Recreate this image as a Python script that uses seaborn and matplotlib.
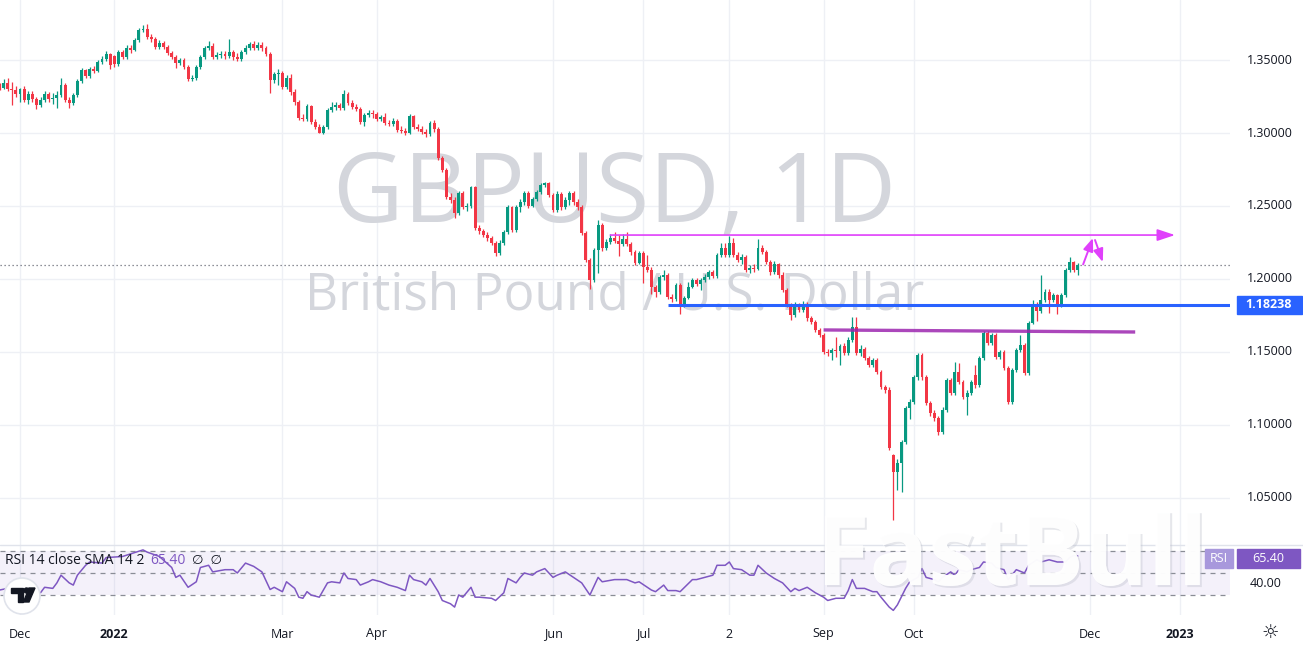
import numpy as np
import pandas as pd
import matplotlib
matplotlib.use("Agg")
import matplotlib.pyplot as plt
import seaborn as sns
import matplotlib.patheffects as pe
from matplotlib.patches import Circle, Polygon, Rectangle
from matplotlib.transforms import IdentityTransform, blended_transform_factory

# GBPUSD daily candles, bar 0 = 1 Dec 2021 (weekdays only), first bar = 24 Nov 2021
bar_start = -5
opens = [
    1.3330, 1.3310, 1.3342, 1.3301, 1.3295, 1.3267, 1.3300, 1.3226, 1.3267, 1.3233,
    1.3192, 1.3226, 1.3267, 1.3233, 1.3240, 1.3260, 1.3329, 1.3226, 1.3205, 1.3260,
    1.3356, 1.3432, 1.3390, 1.3438, 1.3425, 1.3486, 1.3507, 1.3541, 1.3527, 1.3470,
    1.3555, 1.3521, 1.3582, 1.3569, 1.3637, 1.3705, 1.3712, 1.3658, 1.3644, 1.3589,
    1.3616, 1.3589, 1.3548, 1.3520, 1.3479, 1.3500, 1.3452, 1.3370, 1.3377, 1.3452,
    1.3521, 1.3582, 1.3596, 1.3521, 1.3534, 1.3541, 1.3527, 1.3555, 1.3521, 1.3510,
    1.3555, 1.3582, 1.3610, 1.3582, 1.3605, 1.3582, 1.3541, 1.3363, 1.3405, 1.3411,
    1.3315, 1.3380, 1.3281, 1.3212, 1.3103, 1.3095, 1.3185, 1.3075, 1.3041, 1.3000,
    1.3041, 1.3158, 1.3178, 1.3190, 1.3171, 1.3267, 1.3205, 1.3178, 1.3164, 1.3075,
    1.3123, 1.3137, 1.3130, 1.3096, 1.3110, 1.3069, 1.3062, 1.3082, 1.3021, 1.3015,
    1.3000, 1.3116, 1.3041, 1.3030, 1.3007, 1.2995, 1.3069, 1.3027, 1.2829, 1.2747,
    1.2562, 1.2541, 1.2452, 1.2589, 1.2493, 1.2500, 1.2630, 1.2349, 1.2329, 1.2300,
    1.2280, 1.2247, 1.2178, 1.2247, 1.2322, 1.2493, 1.2336, 1.2493, 1.2527, 1.2589,
    1.2500, 1.2548, 1.2596, 1.2644, 1.2658, 1.2575, 1.2473, 1.2583, 1.2490, 1.2540,
    1.2590, 1.2527, 1.2493, 1.2315, 1.2130, 1.1993, 1.2198, 1.2370, 1.2215, 1.2254,
    1.2281, 1.2260, 1.2240, 1.2275, 1.2240, 1.2185, 1.2110, 1.2178, 1.2082, 1.2062,
    1.1945, 1.1911, 1.2014, 1.2027, 1.1877, 1.1862, 1.1959, 1.1822, 1.1870, 1.1945,
    1.1993, 1.1966, 1.1993, 1.2014, 1.2048, 1.2020, 1.2165, 1.2212, 1.2164, 1.2247,
    1.2164, 1.2130, 1.2150, 1.2062, 1.2075, 1.2070, 1.2212, 1.2185, 1.2117, 1.2048,
    1.2100, 1.2030, 1.1925, 1.1822, 1.1753, 1.1822, 1.1790, 1.1822, 1.1733, 1.1705,
    1.1651, 1.1617, 1.1500, 1.1495, 1.1514, 1.1505, 1.1540, 1.1493, 1.1582, 1.1671,
    1.1493, 1.1520, 1.1459, 1.1411, 1.1445, 1.1363, 1.1260, 1.1240, 1.0794, 1.0678,
    1.0740, 1.0883, 1.1116, 1.1158, 1.1329, 1.1480, 1.1329, 1.1151, 1.1082, 1.1048,
    1.0952, 1.1103, 1.1308, 1.1219, 1.1363, 1.1295, 1.1192, 1.1220, 1.1340, 1.1274,
    1.1459, 1.1630, 1.1562, 1.1616, 1.1466, 1.1500, 1.1391, 1.1158, 1.1377, 1.1514,
    1.1548, 1.1356, 1.1700, 1.1822, 1.1780, 1.1856, 1.1911, 1.1856, 1.1890, 1.1822,
    1.1890, 1.2062, 1.2117, 1.2065,
]
highs = [
    1.3345, 1.3370, 1.3380, 1.3350, 1.3320, 1.3310, 1.3320, 1.3285, 1.3290, 1.3250,
    1.3245, 1.3290, 1.3280, 1.3275, 1.3285, 1.3377, 1.3345, 1.3250, 1.3275, 1.3370,
    1.3445, 1.3440, 1.3455, 1.3460, 1.3500, 1.3525, 1.3560, 1.3550, 1.3535, 1.3570,
    1.3570, 1.3600, 1.3605, 1.3650, 1.3720, 1.3740, 1.3748, 1.3675, 1.3660, 1.3635,
    1.3630, 1.3600, 1.3565, 1.3535, 1.3515, 1.3515, 1.3465, 1.3400, 1.3465, 1.3535,
    1.3595, 1.3628, 1.3616, 1.3555, 1.3560, 1.3560, 1.3644, 1.3570, 1.3545, 1.3570,
    1.3600, 1.3625, 1.3628, 1.3620, 1.3620, 1.3595, 1.3555, 1.3420, 1.3440, 1.3425,
    1.3395, 1.3405, 1.3300, 1.3225, 1.3130, 1.3200, 1.3195, 1.3095, 1.3060, 1.3055,
    1.3170, 1.3212, 1.3210, 1.3205, 1.3295, 1.3280, 1.3225, 1.3200, 1.3180, 1.3140,
    1.3155, 1.3160, 1.3145, 1.3125, 1.3135, 1.3090, 1.3100, 1.3095, 1.3045, 1.3035,
    1.3130, 1.3125, 1.3060, 1.3045, 1.3025, 1.3085, 1.3090, 1.3040, 1.2845, 1.2760,
    1.2590, 1.2560, 1.2600, 1.2605, 1.2520, 1.2640, 1.2640, 1.2370, 1.2345, 1.2320,
    1.2295, 1.2260, 1.2265, 1.2335, 1.2505, 1.2500, 1.2505, 1.2545, 1.2600, 1.2600,
    1.2565, 1.2610, 1.2660, 1.2667, 1.2665, 1.2590, 1.2600, 1.2595, 1.2560, 1.2600,
    1.2600, 1.2545, 1.2505, 1.2330, 1.2145, 1.2210, 1.2406, 1.2385, 1.2275, 1.2310,
    1.2320, 1.2300, 1.2310, 1.2320, 1.2255, 1.2200, 1.2190, 1.2190, 1.2165, 1.2080,
    1.1960, 1.2030, 1.2060, 1.2040, 1.1900, 1.1975, 1.1975, 1.1885, 1.1980, 1.2005,
    1.2010, 1.2010, 1.2035, 1.2065, 1.2060, 1.2180, 1.2245, 1.2245, 1.2293, 1.2280,
    1.2185, 1.2170, 1.2165, 1.2095, 1.2100, 1.2276, 1.2230, 1.2200, 1.2130, 1.2120,
    1.2110, 1.2045, 1.1935, 1.1835, 1.1840, 1.1835, 1.1850, 1.1845, 1.1745, 1.1720,
    1.1665, 1.1630, 1.1520, 1.1530, 1.1603, 1.1555, 1.1560, 1.1600, 1.1740, 1.1740,
    1.1545, 1.1535, 1.1470, 1.1460, 1.1460, 1.1375, 1.1275, 1.1260, 1.0800, 1.0770,
    1.0900, 1.1130, 1.1175, 1.1345, 1.1495, 1.1495, 1.1345, 1.1165, 1.1100, 1.1065,
    1.1120, 1.1320, 1.1320, 1.1432, 1.1425, 1.1310, 1.1240, 1.1310, 1.1410, 1.1475,
    1.1645, 1.1645, 1.1630, 1.1630, 1.1515, 1.1515, 1.1405, 1.1390, 1.1530, 1.1615,
    1.1565, 1.1715, 1.1855, 1.1840, 1.2029, 1.1930, 1.1930, 1.1905, 1.1900, 1.1905,
    1.2075, 1.2153, 1.2125, 1.2110,
]
lows = [
    1.3295, 1.3300, 1.3285, 1.3192, 1.3250, 1.3215, 1.3210, 1.3200, 1.3215, 1.3165,
    1.3180, 1.3215, 1.3215, 1.3200, 1.3171, 1.3250, 1.3210, 1.3171, 1.3190, 1.3250,
    1.3345, 1.3375, 1.3380, 1.3410, 1.3415, 1.3470, 1.3495, 1.3438, 1.3450, 1.3460,
    1.3505, 1.3510, 1.3550, 1.3560, 1.3625, 1.3690, 1.3645, 1.3625, 1.3575, 1.3575,
    1.3575, 1.3535, 1.3505, 1.3445, 1.3465, 1.3440, 1.3358, 1.3355, 1.3365, 1.3440,
    1.3510, 1.3570, 1.3505, 1.3505, 1.3515, 1.3505, 1.3515, 1.3500, 1.3490, 1.3495,
    1.3540, 1.3570, 1.3570, 1.3570, 1.3565, 1.3525, 1.3274, 1.3345, 1.3330, 1.3300,
    1.3300, 1.3260, 1.3190, 1.3090, 1.3080, 1.3085, 1.3060, 1.3025, 1.3000, 1.2995,
    1.3030, 1.3145, 1.3160, 1.3155, 1.3160, 1.3190, 1.3165, 1.3150, 1.3060, 1.3050,
    1.3110, 1.3105, 1.3085, 1.3085, 1.3055, 1.3045, 1.3050, 1.3005, 1.3000, 1.2985,
    1.2990, 1.3025, 1.3015, 1.2990, 1.2975, 1.2980, 1.3010, 1.2815, 1.2730, 1.2545,
    1.2520, 1.2418, 1.2440, 1.2480, 1.2465, 1.2485, 1.2335, 1.2310, 1.2285, 1.2260,
    1.2230, 1.2158, 1.2165, 1.2235, 1.2310, 1.2320, 1.2325, 1.2460, 1.2510, 1.2485,
    1.2490, 1.2535, 1.2585, 1.2630, 1.2560, 1.2460, 1.2460, 1.2475, 1.2480, 1.2505,
    1.2510, 1.2475, 1.2300, 1.2115, 1.1934, 1.1980, 1.2040, 1.2195, 1.2200, 1.2240,
    1.2245, 1.2160, 1.2225, 1.2225, 1.2165, 1.2095, 1.2100, 1.1975, 1.2045, 1.1900,
    1.1875, 1.1900, 1.1990, 1.1860, 1.1845, 1.1850, 1.1760, 1.1805, 1.1860, 1.1935,
    1.1950, 1.1925, 1.1980, 1.2000, 1.2005, 1.2010, 1.2150, 1.2150, 1.2150, 1.2150,
    1.2115, 1.2105, 1.2045, 1.2040, 1.2050, 1.2060, 1.2170, 1.2100, 1.2030, 1.2035,
    1.2010, 1.1910, 1.1805, 1.1720, 1.1740, 1.1775, 1.1775, 1.1715, 1.1690, 1.1640,
    1.1600, 1.1485, 1.1470, 1.1446, 1.1466, 1.1411, 1.1480, 1.1480, 1.1570, 1.1480,
    1.1475, 1.1445, 1.1395, 1.1400, 1.1350, 1.1245, 1.1220, 1.0830, 1.0350, 1.0555,
    1.0540, 1.0870, 1.1040, 1.1145, 1.1310, 1.1310, 1.1135, 1.1065, 1.1030, 1.0932,
    1.0940, 1.1090, 1.1205, 1.1205, 1.1280, 1.1175, 1.1069, 1.1205, 1.1255, 1.1260,
    1.1445, 1.1545, 1.1550, 1.1450, 1.1450, 1.1375, 1.1145, 1.1145, 1.1365, 1.1500,
    1.1340, 1.1345, 1.1690, 1.1710, 1.1765, 1.1845, 1.1767, 1.1840, 1.1760, 1.1810,
    1.1880, 1.2050, 1.2050, 1.2030,
]
closes = [
    1.3310, 1.3342, 1.3301, 1.3295, 1.3267, 1.3300, 1.3226, 1.3267, 1.3233, 1.3192,
    1.3226, 1.3267, 1.3233, 1.3240, 1.3260, 1.3329, 1.3226, 1.3205, 1.3260, 1.3356,
    1.3432, 1.3390, 1.3438, 1.3425, 1.3486, 1.3507, 1.3541, 1.3466, 1.3470, 1.3555,
    1.3521, 1.3582, 1.3569, 1.3637, 1.3705, 1.3712, 1.3658, 1.3644, 1.3589, 1.3616,
    1.3589, 1.3548, 1.3520, 1.3479, 1.3500, 1.3452, 1.3370, 1.3377, 1.3452, 1.3521,
    1.3582, 1.3596, 1.3521, 1.3534, 1.3541, 1.3527, 1.3555, 1.3521, 1.3510, 1.3555,
    1.3582, 1.3610, 1.3582, 1.3605, 1.3582, 1.3541, 1.3363, 1.3405, 1.3411, 1.3315,
    1.3380, 1.3281, 1.3212, 1.3103, 1.3095, 1.3185, 1.3075, 1.3041, 1.3000, 1.3041,
    1.3158, 1.3178, 1.3190, 1.3171, 1.3267, 1.3205, 1.3178, 1.3164, 1.3075, 1.3123,
    1.3137, 1.3130, 1.3096, 1.3110, 1.3069, 1.3062, 1.3082, 1.3021, 1.3015, 1.3000,
    1.3116, 1.3041, 1.3030, 1.3007, 1.2995, 1.3069, 1.3027, 1.2829, 1.2747, 1.2562,
    1.2541, 1.2452, 1.2589, 1.2493, 1.2500, 1.2630, 1.2349, 1.2329, 1.2300, 1.2280,
    1.2247, 1.2178, 1.2247, 1.2322, 1.2493, 1.2336, 1.2493, 1.2527, 1.2589, 1.2500,
    1.2548, 1.2596, 1.2644, 1.2658, 1.2575, 1.2473, 1.2583, 1.2490, 1.2540, 1.2590,
    1.2527, 1.2493, 1.2315, 1.2130, 1.1993, 1.2198, 1.2370, 1.2215, 1.2254, 1.2281,
    1.2260, 1.2240, 1.2275, 1.2240, 1.2185, 1.2110, 1.2178, 1.2082, 1.2062, 1.1945,
    1.1911, 1.2014, 1.2027, 1.1877, 1.1862, 1.1959, 1.1822, 1.1870, 1.1945, 1.1993,
    1.1966, 1.1993, 1.2014, 1.2048, 1.2020, 1.2165, 1.2212, 1.2164, 1.2247, 1.2164,
    1.2130, 1.2150, 1.2062, 1.2075, 1.2070, 1.2212, 1.2185, 1.2117, 1.2048, 1.2100,
    1.2030, 1.1925, 1.1822, 1.1753, 1.1822, 1.1790, 1.1822, 1.1733, 1.1705, 1.1651,
    1.1617, 1.1500, 1.1495, 1.1514, 1.1505, 1.1540, 1.1493, 1.1582, 1.1671, 1.1493,
    1.1520, 1.1459, 1.1411, 1.1445, 1.1363, 1.1260, 1.1240, 1.0842, 1.0678, 1.0740,
    1.0883, 1.1116, 1.1158, 1.1329, 1.1480, 1.1329, 1.1151, 1.1082, 1.1048, 1.0952,
    1.1103, 1.1308, 1.1219, 1.1363, 1.1295, 1.1192, 1.1220, 1.1294, 1.1274, 1.1459,
    1.1630, 1.1562, 1.1616, 1.1466, 1.1500, 1.1391, 1.1158, 1.1377, 1.1514, 1.1548,
    1.1356, 1.1700, 1.1822, 1.1780, 1.1856, 1.1911, 1.1856, 1.1890, 1.1822, 1.1890,
    1.2062, 1.2117, 1.2065, 1.2096,
]

# RSI(14)
rsi_bar = [-5, -3, 5, 6, 8, 9, 10, 12, 13, 14, 16, 17, 20, 21, 25, 30, 31, 34, 37, 38,
           39, 41, 43, 44, 46, 47, 50, 52, 53, 55, 57, 59, 61, 62, 64, 65, 67, 68, 69, 70,
           71, 73, 75, 76, 78, 79, 80, 82, 83, 85, 86, 88, 90, 92, 94, 95, 96, 98, 99, 100,
           101, 102, 103, 105, 106, 107, 108, 110, 111, 112, 115, 116, 118, 119, 121, 122, 123, 125, 126, 128,
           130, 131, 133, 135, 137, 139, 141, 142, 145, 148, 150, 151, 153, 154, 155, 157, 158, 160, 161, 164,
           165, 167, 169, 170, 172, 173, 174, 176, 178, 179, 180, 182, 184, 186, 188, 189, 190, 192, 194, 196,
           197, 199, 201, 202, 203, 204, 206, 208, 209, 210, 212, 213, 214, 216, 217, 219, 220, 221, 223, 224,
           225, 227, 228, 229, 231, 232, 234, 235, 237, 238, 240, 241, 243, 245, 246, 248, 249, 251, 253, 255,
           256, 257, 258]
rsi_val = [34.5, 36, 32, 37, 36, 41, 48, 41, 39, 48, 57, 60, 59, 64, 65, 71, 69, 65, 55, 46,
           48, 37, 42, 55, 57, 51, 53, 53, 50, 59, 56, 51, 35, 37, 33, 42, 36, 28, 27, 33,
           30, 28, 41, 42, 41, 50, 45, 44, 39, 42, 44, 42, 39, 37, 34, 48, 44, 42, 39, 45,
           39, 33, 25, 22, 19, 30, 28, 37, 28, 28, 27, 25, 32, 45, 41, 46, 50, 48, 51, 54,
           46, 48, 51, 46, 41, 30, 46, 42, 44, 44, 41, 42, 37, 34.5, 33, 39, 34, 34, 33, 44,
           44, 46, 48, 57, 57, 60, 54, 53, 48, 48, 57, 50, 45, 41, 33, 36, 34, 37, 32, 28,
           25, 27, 27, 34, 44, 36, 36, 33, 33, 28, 19, 16, 21, 36, 42, 46, 54, 46, 44, 42,
           46, 51, 48, 53, 51, 53, 55, 60, 59, 55, 53, 44, 53, 50, 57, 62, 60, 62, 60, 60,
           64, 66, 65.4]
rsi_last = 65.40

month_bars = [0, 23, 64, 87, 130, 152, 173, 196, 218, 261, 283]
month_labels = ["Dec", "2022", "Mar", "Apr", "Jun", "Jul", "2", "Sep", "Oct", "Dec", "2023"]
price_ticks = [1.35, 1.30, 1.25, 1.20, 1.15, 1.10, 1.05]

# drawings on the chart
resistance, resistance_from, resistance_to = 1.2301, 144, 281.7
support, support_from = 1.18238, 158
neck_bars, neck_prices = [196, 272], [1.1651, 1.1637]
path_up = [(259.3, 1.2100), (261.7, 1.2281)]
path_down = [(262.2, 1.2267), (264.1, 1.2116)]

assert len(opens) == len(highs) == len(lows) == len(closes)
assert len(rsi_bar) == len(rsi_val)

df = pd.DataFrame({"open": opens, "high": highs, "low": lows, "close": closes})
df["bar"] = np.arange(bar_start, bar_start + len(df))
UP, DOWN = "#089981", "#f23645"
df["color"] = np.where(df["close"] >= df["open"], UP, DOWN)

sns.set_theme(style="white")
plt.rcParams["font.family"] = ["Open Sans", "DejaVu Sans"]
TXT = "#131722"
GRID = "#eef0f5"

W, H = 1303, 645
fig = plt.figure(figsize=(W / 100, H / 100), dpi=100)
fig.patch.set_facecolor("white")
ax = fig.add_axes([0, 100 / H, 1230 / W, 545 / H])
ax_rsi = fig.add_axes([0, 30 / H, 1230 / W, 70 / H])
xlim = (-20 / 4.1, 1210 / 4.1)
for a in (ax, ax_rsi):
    a.set_xlim(*xlim)
    for s in a.spines.values():
        s.set_visible(False)
    a.set_facecolor("none")
    for b in month_bars:
        a.axvline(b, color=GRID, lw=1, zorder=0)
ax.set_ylim(1.0178, 1.3911)
ax_rsi.set_ylim(11.8, 75.45)
ax.set_xticks([])
ax.set_yticks([])
ax_rsi.set_yticks([])
for p in price_ticks:
    ax.axhline(p, color=GRID, lw=1, zorder=0)

# watermarks
ax.text(0.5, (545 - 222) / 545, "GBPUSD, 1D", transform=ax.transAxes, ha="center",
        va="baseline", fontsize=70, color="#d4d6dc", zorder=1)
ax.text(0.5, (545 - 310) / 545, "British Pound / U.S. Dollar", transform=ax.transAxes,
        ha="center", va="baseline", fontsize=37, color="#d4d6dc", zorder=1)

# candles
body_lo = df[["open", "close"]].min(axis=1)
body_h = (df["close"] - df["open"]).abs().clip(lower=0.0005)
ax.vlines(df["bar"], df["low"], df["high"], colors=df["color"], lw=0.9, zorder=3)
ax.bar(df["bar"], body_h, bottom=body_lo, width=0.72, color=df["color"], lw=0, zorder=4)

# last price dotted line
ax.axhline(closes[-1], color="#6a6d78", lw=0.9, ls=(0, (1, 2.2)), zorder=2)

# drawn lines
ax.annotate("", xy=(resistance_to, resistance), xytext=(resistance_from, resistance),
            arrowprops=dict(arrowstyle="-|>,head_length=0.9,head_width=0.3", color="#e040fb",
                            lw=1.2, shrinkA=0, shrinkB=0), zorder=6)
ax.hlines(support, support_from, xlim[1], color="#2962ff", lw=2.2, zorder=6)
ax.plot(neck_bars, neck_prices, color="#9c27b0", lw=2.4, alpha=0.85, zorder=6,
        solid_capstyle="butt")
for (x0, y0), (x1, y1) in (path_up, path_down):
    ax.annotate("", xy=(x1, y1), xytext=(x0, y0),
                arrowprops=dict(arrowstyle="-|>,head_length=0.65,head_width=0.25",
                                color="#e040fb", lw=1.4, shrinkA=0, shrinkB=0), zorder=7)

# price scale
tr = blended_transform_factory(ax.transAxes, ax.transData)
for p in price_ticks:
    ax.text(1247 / 1230, p, f"{p:.5f}", transform=tr, ha="left", va="center",
            fontsize=9, color=TXT, clip_on=False)
box_h = 18 / 1460
ax.add_patch(Rectangle((1237 / 1230, support - box_h / 2), 65 / 1230, box_h, transform=tr,
                       color="#2962ff", clip_on=False, zorder=8))
ax.text(1269 / 1230, support, f"{support:.5f}", transform=tr, ha="center", va="center",
        fontsize=9, color="white", fontweight="bold", clip_on=False, zorder=9)

# RSI pane
ax_rsi.axhspan(30, 70, color="#7e57c2", alpha=0.08, lw=0, zorder=0)
for lvl in (70, 50, 30):
    ax_rsi.axhline(lvl, color="#8a8d96", lw=0.9, ls=(0, (4, 4)), zorder=1)
sns.lineplot(x=rsi_bar, y=rsi_val, ax=ax_rsi, color="#7e57c2", lw=1.1, zorder=3)
ax_rsi.set_ylabel("")
ax_rsi.set_xticks(month_bars)
ax_rsi.set_xticklabels(month_labels)
ax_rsi.tick_params(axis="x", length=0, pad=9, labelsize=9, colors=TXT)
for lab in ax_rsi.get_xticklabels():
    if lab.get_text() in ("2022", "2023"):
        lab.set_fontweight("bold")

tr2 = blended_transform_factory(ax_rsi.transAxes, ax_rsi.transData)
ax_rsi.text(1250 / 1230, 40, "40.00", transform=tr2, ha="left", va="center", fontsize=9,
            color=TXT, clip_on=False)

# pane separator
fig.add_artist(plt.Line2D([0, 1], [1 - 545 / H, 1 - 545 / H], color="#e0e3eb", lw=1))

# RSI legend
fig.text(5 / W, 1 - 560 / H, "RSI 14 close SMA 14 2", fontsize=10, color=TXT, va="center")
fig.text(150 / W, 1 - 560 / H, f"{rsi_last:.2f}", fontsize=10, color="#7e57c2", va="center")
fig.text(192 / W, 1 - 560 / H, "\u2205  \u2205", fontsize=9.5, color=TXT, va="center")

# FastBull watermark
fig.text(1012 / W, 1 - 585 / H, "FastBull", ha="center", va="baseline", fontsize=70,
         fontweight="bold", color="white", alpha=0.8, zorder=20,
         path_effects=[pe.withSimplePatchShadow(offset=(1.5, -1.5), shadow_rgbFace="#b8bcc8",
                                                 alpha=0.35), pe.Normal()])

# RSI value boxes on the scale (above the watermark)
idt = IdentityTransform()
fig.add_artist(Rectangle((1205, H - 568), 28, 19, transform=idt, color="#a898dc", zorder=24))
fig.add_artist(Rectangle((1237, H - 568), 63, 19, transform=idt, color="#7e57c2", zorder=24))
fig.text(1219 / W, 1 - 558.5 / H, "RSI", ha="center", va="center", fontsize=9,
         color="white", zorder=25)
fig.text(1268.5 / W, 1 - 558.5 / H, f"{rsi_last:.2f}", ha="center", va="center", fontsize=9,
         color="white", zorder=25)

# TradingView badge
fig.add_artist(Circle((22, H - 596), 18, transform=idt, facecolor="white",
                      edgecolor="#e0e3eb", lw=1.2, zorder=21))
fig.add_artist(Polygon([(11, H - 588), (23, H - 588), (23, H - 602), (18, H - 602),
                        (18, H - 593), (11, H - 593)], closed=True, transform=idt,
                       color="#131722", zorder=22))
fig.add_artist(Circle((26.5, H - 590.5), 2.5, transform=idt, color="#131722", zorder=22))
fig.add_artist(Polygon([(29, H - 588), (35, H - 588), (29, H - 602), (23.5, H - 602)],
                       closed=True, transform=idt, color="#131722", zorder=22))

# settings icon
fig.text(1270 / W, 1 - 632 / H, "\u263c", ha="center", va="center", fontsize=14, color=TXT,
         family="DejaVu Sans")

fig.savefig("out.png", dpi=100, facecolor="white")
